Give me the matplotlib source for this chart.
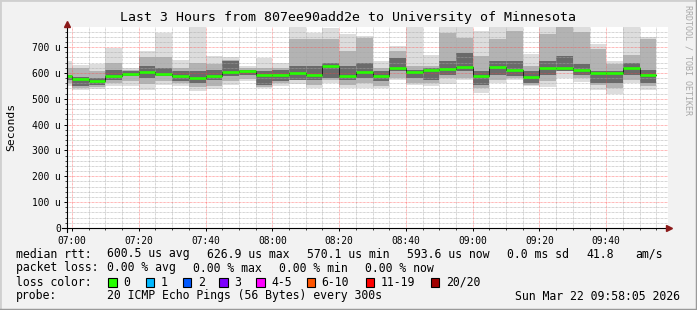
import numpy as np
import matplotlib
matplotlib.use('Agg')
import matplotlib.pyplot as plt
from matplotlib.lines import Line2D
from matplotlib.patches import Rectangle

plt.rcParams['font.family'] = 'DejaVu Sans Mono'

W, H = 697, 310

# 5 minute bins, minutes after 07:00 (first bin is cut by graph start)
bin_start = np.arange(-5, 175, 5)

# median rtt per bin (microseconds)
median = [587, 578, 570, 589, 598, 603, 598, 590, 582, 590, 602, 607,
          594, 594, 599, 594, 627, 590, 603, 587, 621, 602, 611, 617,
          625, 590, 625, 611, 583, 621, 621, 611, 599, 599, 621, 594]

# smoke: outer (min/max ping), middle and core ping ranges
outer_lo = [551, 533, 538, 551, 551, 536, 555, 551, 529, 538, 555, 568,
            541, 551, 559, 541, 562, 541, 541, 541, 574, 554, 551, 556,
            574, 523, 562, 574, 549, 544, 580, 567, 536, 520, 562, 533]
outer_hi = [648, 629, 634, 696, 621, 684, 754, 652, 800, 667, 660, 626,
            657, 637, 800, 754, 773, 750, 745, 647, 706, 800, 671, 800,
            800, 763, 800, 800, 675, 800, 800, 800, 711, 647, 800, 740]
mid_lo = [562, 542, 546, 562, 568, 559, 568, 562, 546, 551, 568, 577,
          546, 562, 574, 555, 574, 555, 562, 551, 581, 562, 562, 581,
          581, 542, 574, 581, 555, 568, 607, 581, 555, 542, 574, 549]
mid_hi = [620, 620, 607, 639, 613, 662, 662, 620, 639, 633, 652, 620,
          620, 620, 730, 730, 730, 684, 736, 620, 684, 626, 626, 755,
          736, 665, 730, 762, 626, 750, 800, 758, 691, 633, 671, 730]
core_lo = [574, 549, 555, 574, 587, 581, 587, 568, 562, 574, 587, 594,
           555, 568, 574, 574, 581, 574, 581, 568, 607, 581, 574, 594,
           607, 555, 594, 587, 562, 594, 607, 594, 562, 562, 594, 562]
core_hi = [594, 585, 581, 613, 607, 626, 620, 607, 607, 613, 646, 613,
           607, 611, 626, 626, 639, 626, 639, 607, 658, 613, 620, 646,
           678, 607, 646, 646, 607, 646, 665, 633, 607, 607, 639, 613]

x_ticks = [0, 20, 40, 60, 80, 100, 120, 140, 160]
x_labels = ['07:00', '07:20', '07:40', '08:00', '08:20', '08:40', '09:00', '09:20', '09:40']
y_ticks = [0, 100, 200, 300, 400, 500, 600, 700]
y_labels = ['0', '100 u', '200 u', '300 u', '400 u', '500 u', '600 u', '700 u']

loss_labels = ['0', '1', '2', '3', '4-5', '6-10', '11-19', '20/20']
loss_colors = ['#26ff00', '#00b8ff', '#0059ff', '#7e00ff', '#ff00ff', '#ff5500', '#ff0000', '#a00000']


def fx(x):
    return x / W


def fy(y):
    return 1 - y / H


fig = plt.figure(figsize=(W / 100, H / 100), dpi=100, facecolor='#f2f2f2')
ax = fig.add_axes([fx(67), fy(228), (668 - 67) / W, (228 - 27) / H])
ax.set_facecolor('white')

# smoke
for lo, hi, col in [(outer_lo, outer_hi, '#dddddd'),
                    (mid_lo, mid_hi, '#b3b3b3'),
                    (core_lo, core_hi, '#6a6a6a')]:
    lo = np.array(lo)
    hi = np.array(hi)
    ax.bar(bin_start, hi - lo, bottom=lo, width=5, align='edge',
           color=col, linewidth=0, zorder=1)

# median: thin dark step line, then green loss-colored segments
med = np.array(median)
ax.step(np.append(bin_start, bin_start[-1] + 5), np.append(med, med[-1]),
        where='post', color='#202020', lw=0.7, zorder=3)
ax.hlines(med, bin_start, bin_start + 5, color=loss_colors[0], lw=1.9,
          capstyle='butt', zorder=4)

ax.set_xlim(-1.5, 178.5)
ax.set_ylim(0, 778)

ax.set_xticks(x_ticks)
ax.set_xticklabels(x_labels)
ax.set_xticks(np.arange(0, 180, 5), minor=True)
ax.set_yticks(y_ticks)
ax.set_yticklabels(y_labels)
ax.set_yticks(np.arange(0, 780, 20), minor=True)

# grid drawn over the smoke, semi transparent like rrdtool
ax.grid(which='minor', color='#a8a8a8', alpha=0.7, linestyle=(0, (0.7, 0.7)), lw=0.7)
ax.grid(which='major', color='#ff4040', alpha=0.55, linestyle=(0, (0.7, 0.7)), lw=0.7)
ax.set_axisbelow(False)

ax.tick_params(which='major', length=2.5, width=0.7, labelsize=6.9, pad=2,
               colors='black')
ax.tick_params(which='minor', length=1.2, width=0.5)
ax.tick_params(axis='x', pad=3)
for s in ax.spines.values():
    s.set_visible(False)

# axes with arrows
fig.add_artist(Line2D([fx(62), fx(668)], [fy(228), fy(228)], color='black', lw=0.8))
fig.add_artist(Line2D([fx(67), fx(67)], [fy(232), fy(25)], color='black', lw=0.8))
fig.add_artist(Line2D([fx(669)], [fy(228)], marker='>', color='#8b1a1a', ms=4, lw=0))
fig.add_artist(Line2D([fx(67)], [fy(24)], marker='^', color='#8b1a1a', ms=4, lw=0))

fig.text(fx(348), fy(18), 'Last 3 Hours from 807ee90add2e to University of Minnesota',
         ha='center', va='center', fontsize=9.5)
fig.text(fx(11), fy(127), 'Seconds', rotation=90, ha='center', va='center', fontsize=8.2)
fig.text(fx(688), fy(60), 'RRDTOOL / TOBI OETIKER', rotation=-90, ha='center', va='center',
         fontsize=6, color='#a8a8a8')

fs = 8.3
row1 = [(16, 'median rtt:'), (107, '600.5 us avg'), (207, '626.9 us max'),
        (307, '570.1 us min'), (407, '593.6 us now'), (507, '0.0 ms sd'),
        (586, '41.8'), (635, 'am/s')]
for x, t in row1:
    fig.text(fx(x), fy(254), t, ha='left', va='center', fontsize=fs)

row2 = [(16, 'packet loss:'), (107, '0.00 % avg'), (193, '0.00 % max'),
        (279, '0.00 % min'), (365, '0.00 % now')]
for x, t in row2:
    fig.text(fx(x), fy(268), t, ha='left', va='center', fontsize=fs)

fig.text(fx(16), fy(282), 'loss color:', ha='left', va='center', fontsize=fs)
box_x = [108, 145.7, 182.7, 219.3, 256, 306.7, 365.7, 430.7]
for bx, lab, col in zip(box_x, loss_labels, loss_colors):
    fig.add_artist(Rectangle((fx(bx), fy(286.5)), 8.5 / W, 8.5 / H, facecolor=col,
                             edgecolor='black', lw=0.8, transform=fig.transFigure))
    fig.text(fx(bx + 15), fy(282), lab, ha='left', va='center', fontsize=fs)

fig.text(fx(16), fy(296), 'probe:', ha='left', va='center', fontsize=fs)
fig.text(fx(107), fy(296), '20 ICMP Echo Pings (56 Bytes) every 300s',
         ha='left', va='center', fontsize=fs)
fig.text(fx(680), fy(296), 'Sun Mar 22 09:58:05 2026', ha='right', va='center', fontsize=fs)

# image border
fig.add_artist(Line2D([0, 0], [0, 1], color='#d0d0d0', lw=2))
fig.add_artist(Line2D([0, 1], [1, 1], color='#d0d0d0', lw=2))
fig.add_artist(Line2D([0, 1], [0, 0], color='#9a9a9a', lw=2.5))
fig.add_artist(Line2D([1, 1], [0, 1], color='#9a9a9a', lw=2.5))

fig.savefig('out.png', dpi=100, facecolor=fig.get_facecolor())
